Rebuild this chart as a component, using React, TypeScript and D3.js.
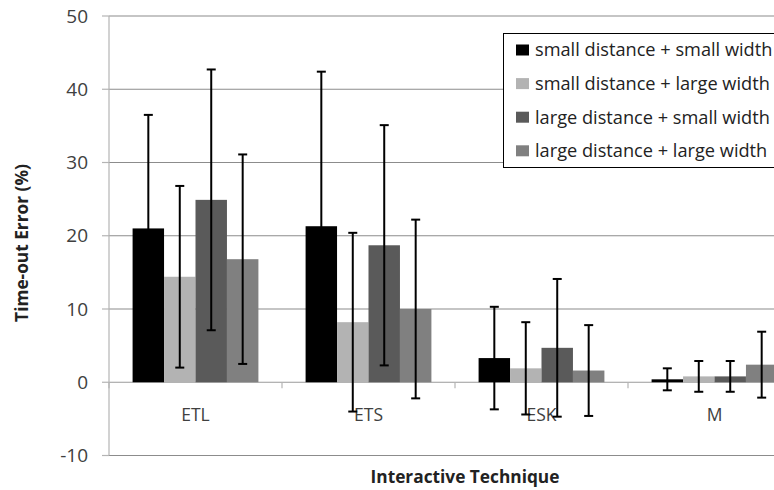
import React from "react";
import * as d3 from "d3";

const categories = ["ETL", "ETS", "ESK", "M"];
const seriesNames = [
  "small distance + small width",
  "small distance + large width",
  "large distance + small width",
  "large distance + large width",
];
const smallSmall = [21, 21.3, 3.3, 0.4];
const smallLarge = [14.4, 8.2, 1.9, 0.8];
const largeSmall = [24.9, 18.7, 4.7, 0.8];
const largeLarge = [16.8, 10, 1.6, 2.4];
const errSmallSmall = [15.5, 21.1, 7.0, 1.5];
const errSmallLarge = [12.4, 12.2, 6.3, 2.1];
const errLargeSmall = [17.8, 16.4, 9.4, 2.1];
const errLargeLarge = [14.3, 12.2, 6.2, 4.5];
const yTicks = [-10, 0, 10, 20, 30, 40, 50];
const colors = ["#000000", "#b3b3b3", "#5a5a5a", "#808080"];

const values = [smallSmall, smallLarge, largeSmall, largeLarge];
const errors = [errSmallSmall, errSmallLarge, errLargeSmall, errLargeLarge];

export default function App() {
  const W = 774;
  const H = 490;
  const left = 109;
  const right = 801;
  const y = d3.scaleLinear().domain([-10, 50]).range([455.5, 16]);
  const x0 = d3.scaleBand().domain(categories).range([left, right]).paddingInner(0).paddingOuter(0);
  const bw = x0.bandwidth();
  const barW = bw / 5.5;
  const groupOff = (bw - 4 * barW) / 2;
  const x1 = d3
    .scaleBand()
    .domain(seriesNames)
    .range([groupOff, groupOff + 4 * barW])
    .padding(0);
  const font = "'Open Sans', sans-serif";

  return (
    <svg
      width={W}
      height={H}
      style={{ position: "absolute", left: 0, top: 0, background: "#fff" }}
      fontFamily={font}
    >
      {/* gridlines */}
      {yTicks.map((t) => (
        <line
          key={"g" + t}
          x1={left}
          x2={right}
          y1={y(t)}
          y2={y(t)}
          stroke={t === 0 ? "#9a9a9a" : "#8c8c8c"}
          strokeWidth={1.2}
        />
      ))}
      {/* y axis */}
      <line x1={left} x2={left} y1={y(50)} y2={y(-10)} stroke="#b4b4b4" strokeWidth={1.2} />
      {yTicks.map((t) => (
        <g key={"t" + t}>
          <line x1={left - 7} x2={left} y1={y(t)} y2={y(t)} stroke="#b4b4b4" strokeWidth={1.2} />
          <text
            x={88}
            y={y(t)}
            dy="0.35em"
            textAnchor="end"
            fontSize={19}
            fill="#404040"
          >
            {t}
          </text>
        </g>
      ))}
      {/* category ticks */}
      {categories.map((c, i) => (
        <line
          key={"ct" + c}
          x1={x0(c)! + (i === 0 ? 0 : 0)}
          x2={x0(c)!}
          y1={y(0)}
          y2={y(0) + 6}
          stroke="#b4b4b4"
          strokeWidth={1.2}
        />
      ))}
      <line x1={right} x2={right} y1={y(0)} y2={y(0) + 6} stroke="#b4b4b4" />
      {/* category labels */}
      {categories.map((c) => (
        <text
          key={"cl" + c}
          x={x0(c)! + bw / 2}
          y={421}
          textAnchor="middle"
          fontSize={17.5}
          fill="#404040"
        >
          {c}
        </text>
      ))}
      {/* bars */}
      {seriesNames.map((s, si) => (
        <g key={"s" + si}>
          {categories.map((c, ci) => {
            const v = values[si][ci];
            const bx = x0(c)! + x1(s)!;
            return (
              <rect
                key={"b" + ci}
                x={bx}
                y={y(Math.max(0, v))}
                width={barW}
                height={Math.abs(y(0) - y(v))}
                fill={colors[si]}
              />
            );
          })}
        </g>
      ))}
      {/* error bars */}
      {seriesNames.map((s, si) => (
        <g key={"e" + si}>
          {categories.map((c, ci) => {
            const v = values[si][ci];
            const e = errors[si][ci];
            const cx = x0(c)! + x1(s)! + barW / 2;
            return (
              <g key={"eb" + ci} stroke="#000" strokeWidth={2}>
                <line x1={cx} x2={cx} y1={y(v + e)} y2={y(v - e)} />
                <line x1={cx - 4.5} x2={cx + 4.5} y1={y(v + e)} y2={y(v + e)} />
                <line x1={cx - 4.5} x2={cx + 4.5} y1={y(v - e)} y2={y(v - e)} />
              </g>
            );
          })}
        </g>
      ))}
      {/* legend */}
      <rect x={503.5} y={33.5} width={300} height={134} fill="#fff" stroke="#000" strokeWidth={1} />
      {seriesNames.map((s, i) => {
        const cy = 50 + i * 33.6;
        return (
          <g key={"l" + i}>
            <rect x={516} y={cy - 5.5} width={13} height={11} fill={colors[i]} />
            <text x={535} y={cy} dy="0.35em" fontSize={18.2} fill="#222">
              {s}
            </text>
          </g>
        );
      })}
      {/* axis titles */}
      <text
        x={(left + right) / 2 + 10}
        y={483}
        textAnchor="middle"
        fontSize={17.3}
        fontWeight="bold"
        fill="#222"
      >
        Interactive Technique
      </text>
      <text
        transform={`translate(28, 243) rotate(-90)`}
        textAnchor="middle"
        fontSize={17.3}
        fontWeight="bold"
        fill="#222"
      >
        Time-out Error (%)
      </text>
    </svg>
  );
}
